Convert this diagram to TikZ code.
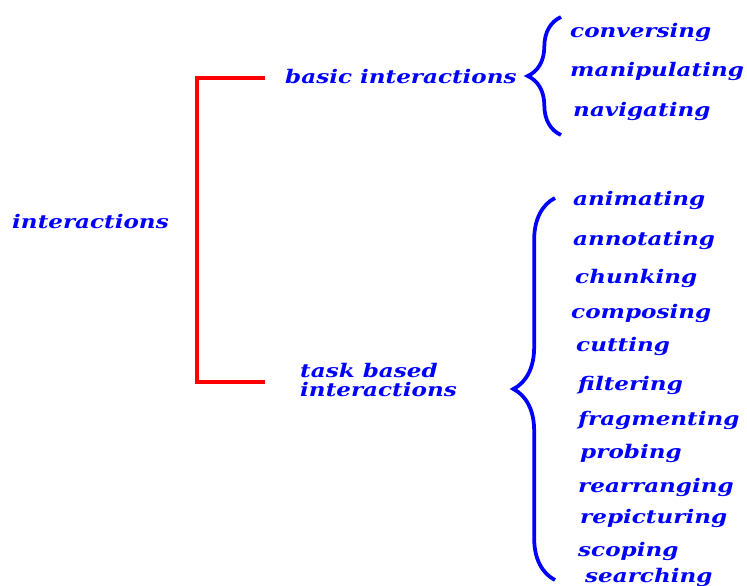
\documentclass[tikz,border=0pt]{standalone}
\usepackage{fontspec}
\setmainfont{DejaVu Serif}[FakeStretch=1.23]
\usetikzlibrary{decorations.pathreplacing}

\begin{document}
\begin{tikzpicture}[x=0.03cm,y=-0.03cm,
word/.style={anchor=west,inner sep=0,text=blue,font=\fontsize{16}{16}\selectfont\bfseries\itshape},
redline/.style={draw=red,line width=3pt},
bluebrace/.style={draw=blue,line width=3.2pt,decorate,decoration={brace,amplitude=#1}}]
\useasboundingbox (0,0) rectangle (747,586);

\node [word] (root) at (12,222) {interactions};
\node [word] (basic) at (285,77) {basic interactions};
\node [word,align=left] (task) at (300,380) {task based\\interactions};

\foreach \xx/\yy/\txt [count=\i from 0] in {570/32/conversing,570/71/manipulating,573/111/navigating}
    \node [word] (basic-\i) at (\xx,\yy) {\txt};

\foreach \xx/\yy/\txt [count=\i from 0] in {573/200/animating,573/240/annotating,575/278/chunking,
    571/313/composing,576/346/cutting,578/385/filtering,578/420/fragmenting,580/453/probing,
    578/487/rearranging,580/518/repicturing,578/551/scoping,585/577/searching}
    \node [word] (task-\i) at (\xx,\yy) {\txt};

% red bracket
\coordinate (fork) at (197,222);
\coordinate (basic-end) at (265,78);
\coordinate (task-end) at (265,382);
\draw [redline] (basic-end) -- (basic-end -| fork) -- (task-end -| fork) -- (task-end);

% braces
\coordinate (bb-top) at (561,17);
\coordinate (bb-bottom) at (561,135);
\coordinate (tb-top) at (555,198);
\coordinate (tb-bottom) at (555,580);
\draw [bluebrace=1cm] (bb-bottom) -- (bb-top);
\draw [bluebrace=1.25cm] (tb-bottom) -- (tb-top);
\end{tikzpicture}
\end{document}
